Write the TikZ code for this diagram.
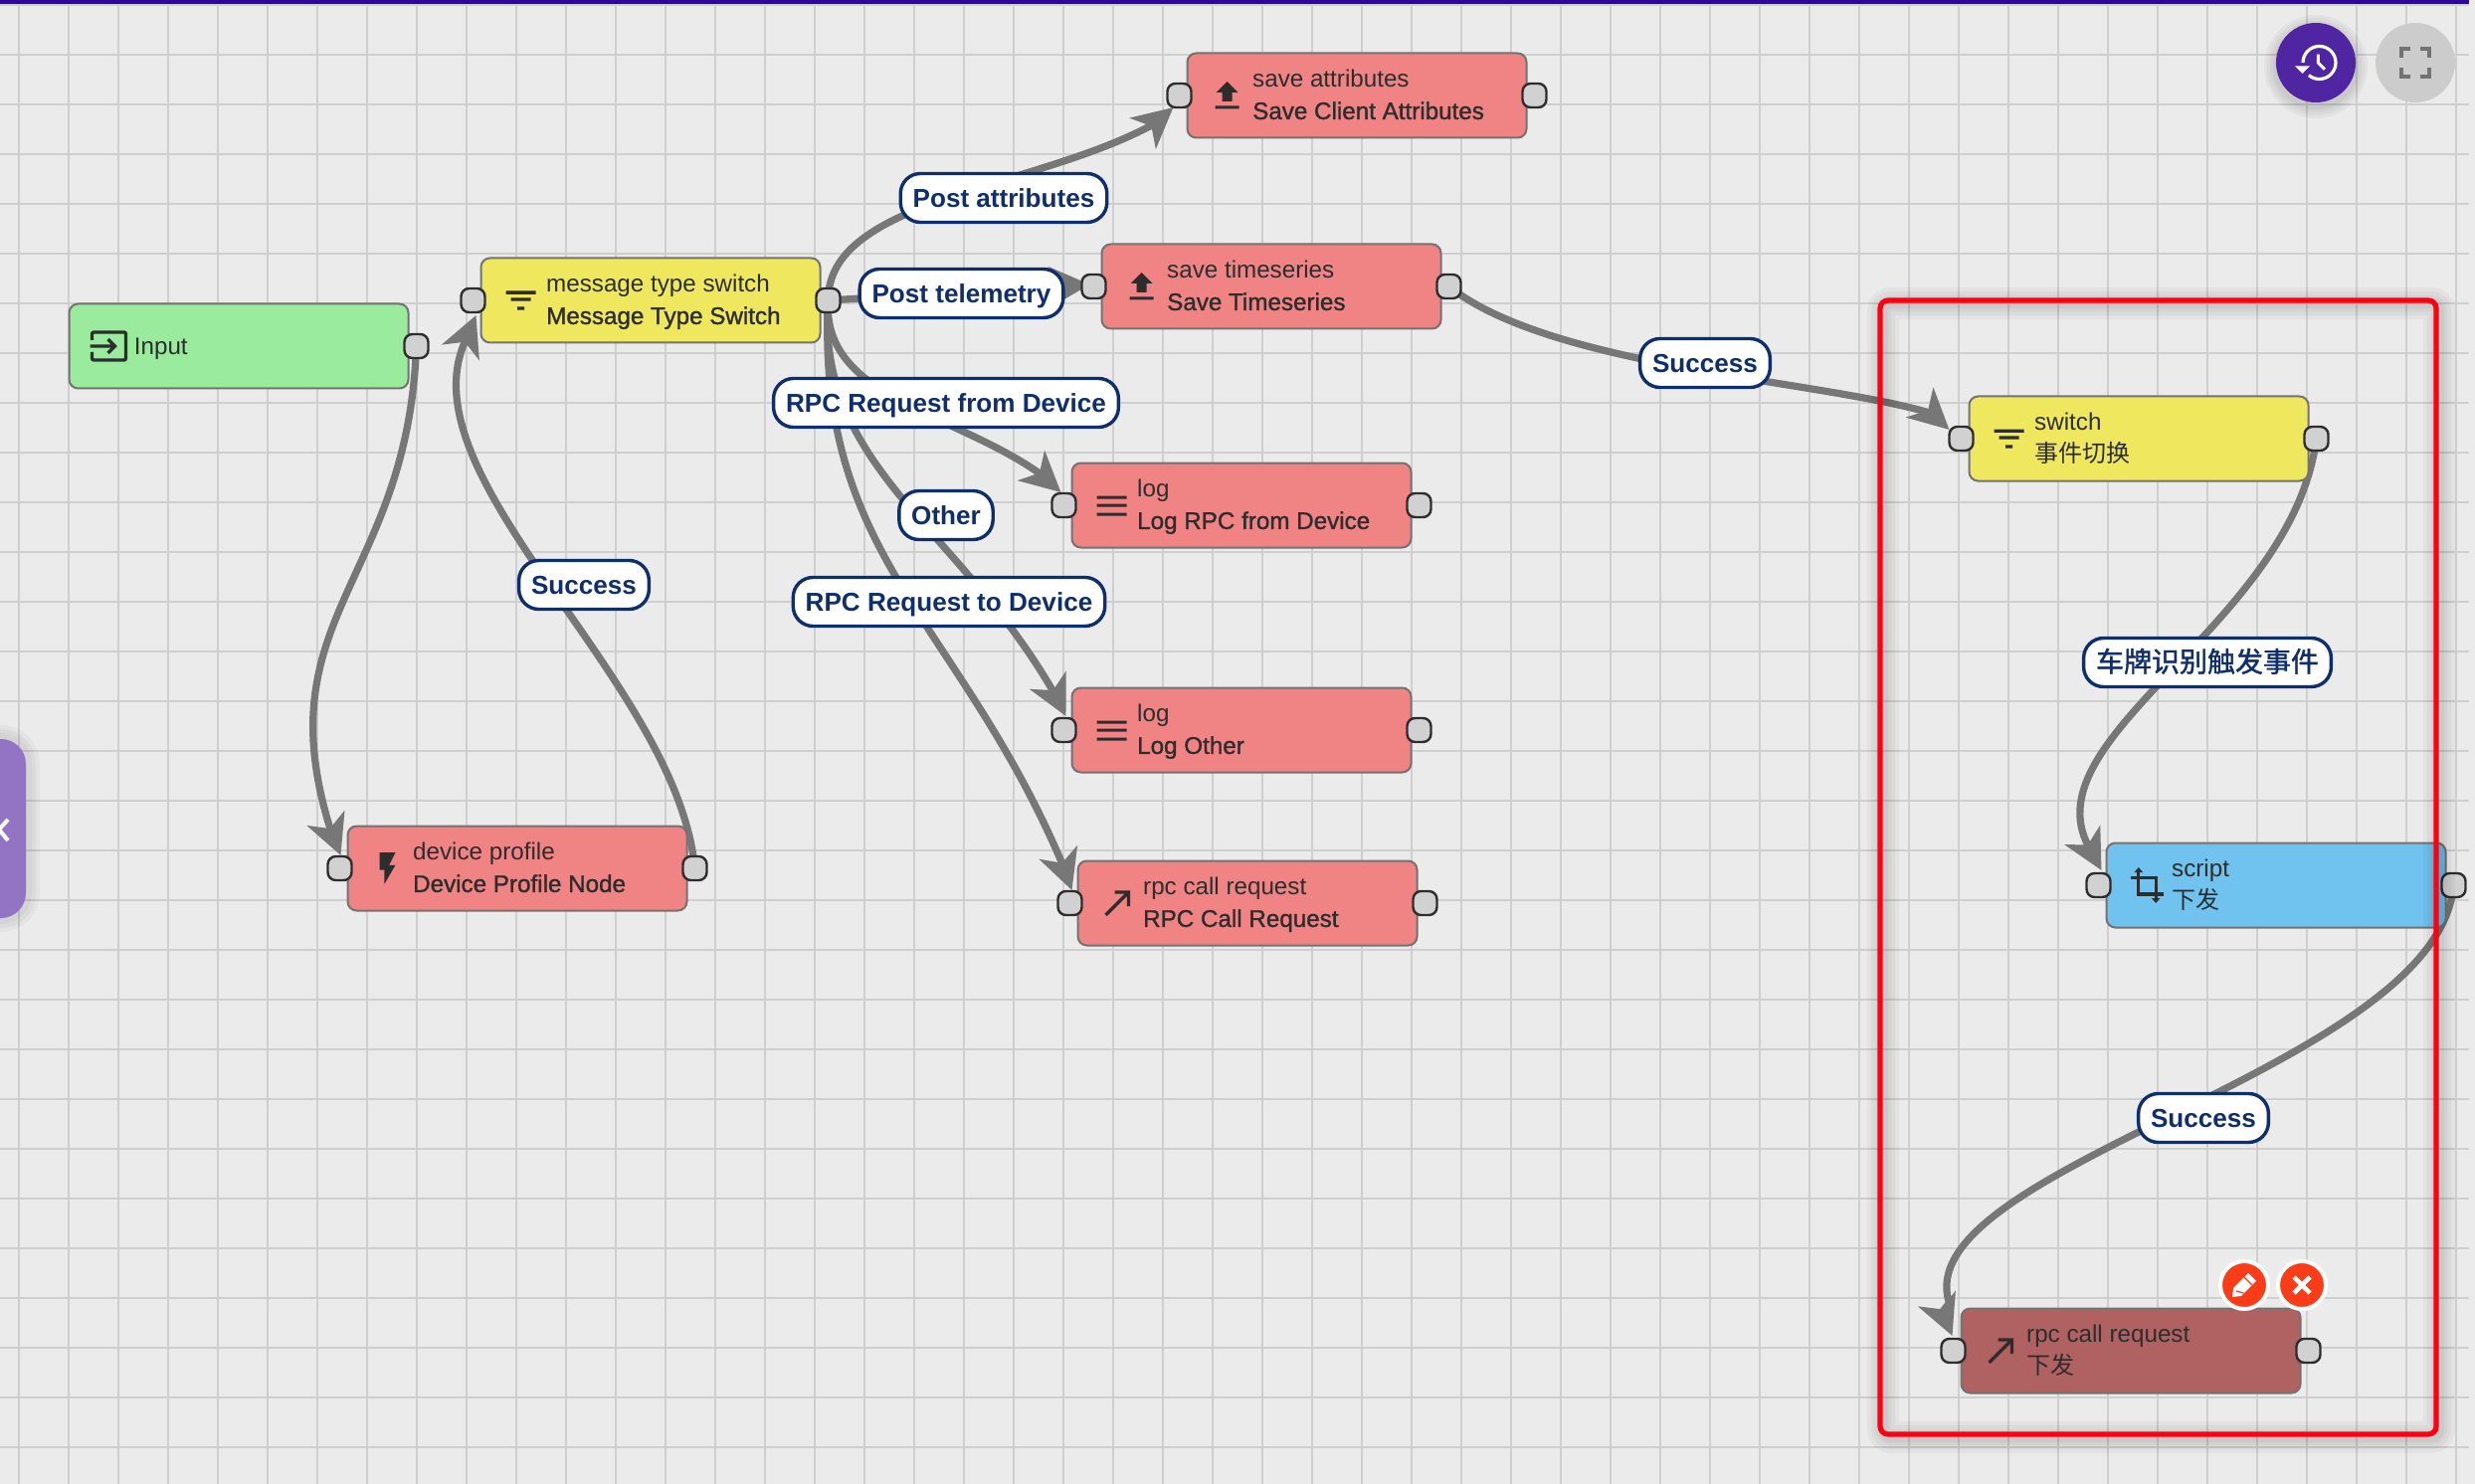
\documentclass[tikz,border=0pt]{standalone}
\usepackage{fontspec}
\setmainfont{Liberation Sans}
\newfontfamily\medfont[FakeBold=1.2]{Liberation Sans}
\newfontfamily\cjk{Noto Sans CJK SC}
\newfontfamily\cjkmed[FakeBold=1.5]{Noto Sans CJK SC}
\usetikzlibrary{calc,arrows.meta}
\pgfdeclarelayer{under}
\pgfsetlayers{under,main}

\definecolor{canvasbg}{HTML}{EBEBEB}
\definecolor{gridline}{HTML}{CFCFCF}
\definecolor{edgegray}{HTML}{777777}
\definecolor{navy}{HTML}{0E2E6E}
\definecolor{inkdark}{HTML}{2D2D2D}
\definecolor{nodegreen}{HTML}{9BEB9F}
\definecolor{nodeyellow}{HTML}{EFE85F}
\definecolor{nodered}{HTML}{F08383}
\definecolor{nodeblue}{HTML}{6FC3EE}
\definecolor{nodepicked}{HTML}{B06162}
\definecolor{accent}{HTML}{FA3C19}
\definecolor{violet}{HTML}{4F25A2}
\definecolor{barviolet}{HTML}{31069A}
\definecolor{sidepanel}{HTML}{9373C3}
\definecolor{framered}{HTML}{FF0010}

\tikzset{
  flowbox/.style={draw=black!55,line width=1pt,rounded corners=4.5pt,minimum width=170.5pt,minimum height=42.5pt,inner sep=0pt},
  port/.style={draw=inkdark,line width=1.2pt,fill=black!18!white,rounded corners=4pt,minimum width=12pt,minimum height=12pt,inner sep=0pt},
  caption/.style={anchor=west,align=left,inner sep=0pt,text=inkdark,font=\fontsize{12.1pt}{16pt}\selectfont},
  tag/.style={draw=navy,line width=1.7pt,fill=white,rounded corners=10pt,text=navy,inner xsep=6.2pt,inner ysep=0pt,minimum height=24.5pt,text height=9.5pt,text depth=0pt,font=\fontsize{13.05pt}{15pt}\selectfont\bfseries},
  edgeline/.style={draw=edgegray,line width=3.6pt,line join=round,-{Stealth[length=20pt,width=20pt,inset=5.5pt]}},
  pics/filtericon/.style={code={
    \fill[inkdark] (-15,-9.5) rectangle (15,-6.2) (-10,-2.6) rectangle (10,0.7) (-3.5,6.4) rectangle (3.5,9.7);}},
  pics/menuicon/.style={code={
    \fill[inkdark] (-15,-9.5) rectangle (15,-6.5) (-15,-1.5) rectangle (15,1.5) (-15,7.5) rectangle (15,10.5);}},
  pics/uploadicon/.style={code={
    \fill[inkdark] (0,-14) -- (11,-3) -- (5,-3) -- (5,6) -- (-5,6) -- (-5,-3) -- (-11,-3) -- cycle (-12,10.5) rectangle (12,13.5);}},
  pics/inputicon/.style={code={
    \draw[inkdark,line width=1.7pt,rounded corners=1pt] (-17,-6) -- (-17,-14) -- (17,-14) -- (17,14) -- (-17,14) -- (-17,6);
    \draw[inkdark,line width=1.6pt] (-19,0) -- (5,0) (-1,-7) -- (6,0) -- (-1,7);}},
  pics/callicon/.style={code={
    \draw[inkdark,line width=1.7pt] (-12,12) -- (10,-10) (-3,-11) -- (11,-11) -- (11,3);}},
  pics/cropicon/.style={code={
    \draw[inkdark,line width=1.6pt] (-7.7,-14) -- (-7.7,9) -- (17,9) (-16,-7.7) -- (9.7,-7.7) -- (9.7,14);
    \fill[inkdark] (-7.7,-18) -- (-12,-13) -- (-3.4,-13) -- cycle (9.7,18) -- (5.4,13) -- (14,13) -- cycle;}},
  pics/bolticon/.style={code={
    \fill[inkdark] (-8,-16) -- (-8,1.6) -- (-3.2,1.6) -- (-3.2,16) -- (8,-3.2) -- (1.6,-3.2) -- (8,-16) -- cycle;}},
}

% One rule node: name, centre x, centre y, fill, icon pic, upper and lower caption line.
% The struts keep both baselines at the same height in every node.
\newcommand{\rulebox}[7]{%
  \node[flowbox,fill=#4] (#1) at (#2,#3) {};
  \node[caption] (#1-text) at ($(#1.west)+(66.3,1)$) {\rule{0pt}{9.5pt}#6\\#7\rule[-2.6pt]{0pt}{2.6pt}};
  \pic at ($(#1.west)+(41,0)$) {#5};
  \node[port] (#1-in) at ($(#1.west)+(-7,0)$) {};
  \node[port] (#1-out) at ($(#1.east)+(7,0)$) {};
}
\newcommand{\cjktext}[1]{{\cjk\fontsize{12pt}{16pt}\selectfont #1}}

\begin{document}
\begin{tikzpicture}[x=0.5pt,y=-0.5pt]
\useasboundingbox (0,0) rectangle (2488,1492);

\begin{pgfonlayer}{under}
  % Canvas and grid
  \fill[canvasbg] (0,0) rectangle (2488,1492);
  \foreach \gx in {19,69,...,2469} \draw[gridline,line width=1pt] (\gx,0) -- (\gx,1492);
  \foreach \gy in {5,55,...,1455} \draw[gridline,line width=1pt] (0,\gy) -- (2482,\gy);
\end{pgfonlayer}

% Left rule chain
\node[flowbox,fill=nodegreen] (input) at (240,348) {};
\node[caption] (input-text) at ($(input.west)+(66,3)$) {Input};
\pic at ($(input.west)+(41,0)$) {inputicon};
\node[port] (input-out) at ($(input.east)+(7,0)$) {};

\rulebox{msg}{654}{302}{nodeyellow}{filtericon}{message type switch}{\medfont Message Type Switch}
\rulebox{attrs}{1364}{96}{nodered}{uploadicon}{save attributes}{\medfont Save Client Attributes}
\rulebox{series}{1278}{288}{nodered}{uploadicon}{save timeseries}{\medfont Save Timeseries}
\rulebox{logrpc}{1248}{508}{nodered}{menuicon}{log}{\medfont Log RPC from Device}
\rulebox{logother}{1248}{734}{nodered}{menuicon}{log}{\medfont Log Other}
\rulebox{rpccall}{1254}{908}{nodered}{callicon}{rpc call request}{\medfont RPC Call Request}
\rulebox{profile}{520}{873}{nodered}{bolticon}{device profile}{\medfont Device Profile Node}

% Framed rule chain
\rulebox{switch}{2150}{441}{nodeyellow}{filtericon}{switch}{\cjktext{事件切换}}
\rulebox{script}{2288}{890}{nodeblue}{cropicon}{script}{\cjktext{下发}}
\rulebox{rpcdown}{2142}{1358}{nodepicked}{callicon}{rpc call request}{\cjktext{下发}}

% Relation labels
\node[tag] (t-attrs) at (1009,199) {Post attributes};
\node[tag] (t-tele) at (966.5,295) {Post telemetry};
\node[tag] (t-from) at (951,405) {RPC Request from Device};
\node[tag] (t-other) at (951,518) {Other};
\node[tag] (t-to) at (954,605) {RPC Request to Device};
\node[tag] (t-ok1) at (587,588) {Success};
\node[tag] (t-ok2) at (1714,365) {Success};
\node[tag] (t-ok3) at (2215,1124) {Success};
\node[tag,font=\cjkmed\fontsize{14pt}{15pt}\selectfont] (t-plate) at (2219,666) {车牌识别触发事件};

\begin{pgfonlayer}{under}
  % Connectors run beneath nodes and labels; each head points at its port
  \draw[edgeline] (input-out.center) .. controls (410,585) and (265,620) .. ($(profile-in)+(-9,-38)$) -- ($(profile-in)+(1,-13)$);
  \draw[edgeline] (profile-out.center) .. controls (680,683) and (403,480) .. ($(msg-in)+(-7,39)$) -- ($(msg-in)+(3,15)$);
  \draw[edgeline] (msg-out.center) .. controls (832,200) and (1040,190) .. ($(attrs-in)+(-26,29)$) -- ($(attrs-in)+(-6,12)$);
  \draw[edgeline] (msg-out.center) -- ($(series-in)+(-4,-2)$);
  \draw[edgeline] (msg-out.center) .. controls (826,400) and (960,415) .. ($(logrpc-in)+(-23,-31)$) -- ($(logrpc-in)+(-3,-13)$);
  \draw[edgeline] (msg-out.center) .. controls (820,470) and (965,530) .. ($(logother-in)+(-8,-34)$) -- ($(logother-in)+(2,-14)$);
  \draw[edgeline] (msg-out.center) .. controls (820,560) and (965,625) .. ($(rpccall-in)+(-7,-38)$) -- ($(rpccall-in)+(2,-13)$);
  \draw[edgeline] (series-out.center) .. controls (1560,370) and (1830,382) .. ($(switch-in)+(-30,-25.5)$) -- ($(switch-in)+(-12,-9)$);
  \draw[edgeline] (switch-out.center) .. controls (2305,627) and (2040,740) .. ($(script-in)+(-10,-39)$) -- ($(script-in)+(3,-15)$);
  \draw[edgeline] (script-out.center) .. controls (2450,1075) and (1915,1173) .. ($(rpcdown-in)+(-4,-48)$) -- ($(rpcdown-in)+(-11,-39)$) -- ($(rpcdown-in)+(-1,-15)$);
\end{pgfonlayer}

% Selection frame with its soft shadow
\foreach \sw in {16,12,8,5}
  \draw[black,opacity=0.035,line width=\sw pt,rounded corners=4pt] (1893,305) rectangle (2452,1445);
\draw[framered,line width=2.6pt,rounded corners=4pt] (1890,302) rectangle (2449,1442);

% Edit and delete buttons on the picked node
\node[circle,draw=white,line width=2pt,fill=accent,minimum size=24pt,inner sep=0pt] (edit) at (2256,1292) {};
\node[circle,draw=white,line width=2pt,fill=accent,minimum size=24pt,inner sep=0pt] (remove) at (2314,1292) {};
\begin{scope}[shift={(edit.center)}]
  \fill[white] (-12,12) -- (-10.9,3.1) -- (4.1,-11.9) -- (11.9,-4.1) -- (-3.1,10.9) -- cycle;
  \draw[accent,line width=0.6pt] (0.1,-7.9) -- (7.9,-0.1) (-8.2,5.8) -- (-0.4,8.2);
\end{scope}
\draw[white,line width=2.3pt] ($(remove)+(-8,-8)$) -- ($(remove)+(8,8)$) ($(remove)+(8,-8)$) -- ($(remove)+(-8,8)$);

% Top bar
\fill[barviolet] (0,0) rectangle (2482,4);

% Round tool buttons
\foreach \rr in {52,49,46,43}
  \fill[black,opacity=0.035] (2328,67) circle[radius=\rr];
\node[circle,fill=violet,minimum size=40pt,inner sep=0pt] (history) at (2328,63) {};
\node[circle,fill=black!20!white,minimum size=40pt,inner sep=0pt] (fullview) at (2428,63) {};
\begin{scope}[shift={(history.center)}]
  \draw[white,line width=1.6pt] (3.5,0) ++(180:16.5) arc[start angle=180,end angle=490,radius=16.5];
  \fill[white] (-21,3.3) -- (-6,3.3) -- (-13.5,11) -- cycle;
  \draw[white,line width=1.5pt] (2.3,-8.3) -- (2.3,0) -- (9,6.7);
\end{scope}
\begin{scope}[shift={(fullview.center)}]
  \draw[black!55,line width=1.9pt] (-14,-5) -- (-14,-14) -- (-5,-14) (5,-14) -- (14,-14) -- (14,-5) (14,5) -- (14,14) -- (5,14) (-5,14) -- (-14,14) -- (-14,5);
\end{scope}

% Collapsed side panel
\foreach \sw in {14,10,6}
  \draw[black,opacity=0.03,line width=\sw pt] (0,743) -- (1,743) arc[start angle=-90,end angle=0,radius=25] -- (26,898) arc[start angle=0,end angle=90,radius=25] -- (0,923);
\fill[sidepanel] (0,743) -- (1,743) arc[start angle=-90,end angle=0,radius=25] -- (26,898) arc[start angle=0,end angle=90,radius=25] -- (0,923) -- cycle;
\draw[white,line width=2pt] (8,824) -- (-1,834) -- (8,845);
\end{tikzpicture}
\end{document}
